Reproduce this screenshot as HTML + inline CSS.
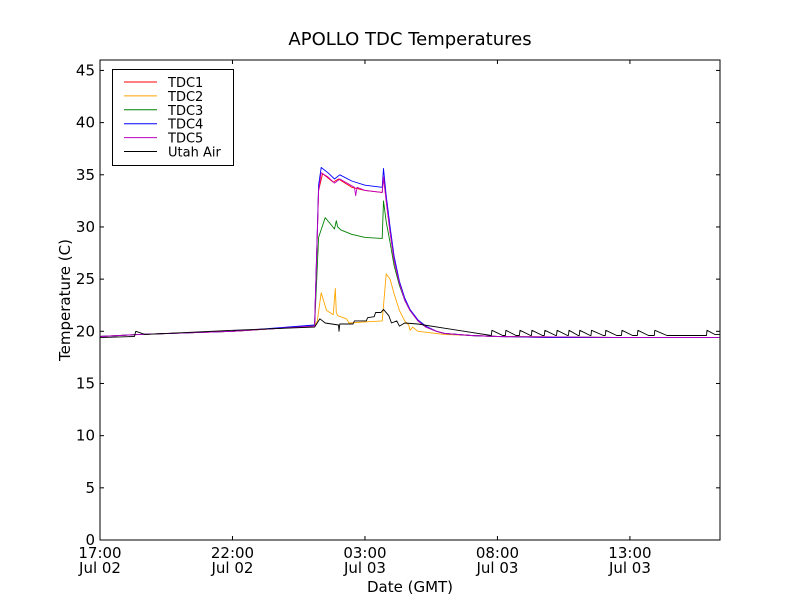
<!DOCTYPE html>
<html><head><meta charset="utf-8"><style>
body{margin:0;background:#fff;}
svg{display:block;font-family:"DejaVu Sans","Liberation Sans",sans-serif;}
</style></head><body>
<svg id="chart" width="800" height="600">
<rect width="800" height="600" fill="#fff"/>
<text x="410" y="45" font-size="18" text-anchor="middle">APOLLO TDC Temperatures</text>
<g id="plot"></g>
<text x="410" y="592" font-size="15" text-anchor="middle">Date (GMT)</text>
<text transform="translate(70,300) rotate(-90)" font-size="15" text-anchor="middle">Temperature (C)</text>
</svg>
<script>
const xTickHours=[0,5,10,15,20];
const xTickTimes=["17:00","22:00","03:00","08:00","13:00"];
const xTickDates=["Jul 02","Jul 02","Jul 03","Jul 03","Jul 03"];
const yTicks=[0,5,10,15,20,25,30,35,40,45];
const seriesNames=["TDC1","TDC2","TDC3","TDC4","TDC5","Utah Air"];
const seriesColors=["#ff0000","#ffa500","#008000","#0000ff","#bf00bf","#000000"];
const tdc1Hours=[0,1.5,5,8.1,8.25,8.4,8.8,9.0,9.5,10,10.65,10.7,10.8,10.95,11.1,11.3,11.5,11.7,12,12.3,12.7,13,14,15,17,20,23.4];
const tdc1Vals=[19.5,19.7,20.0,20.5,33.5,35.1,34.3,34.6,33.8,33.5,33.3,34.8,32.5,29.5,26.8,24.6,23.0,22.0,21.0,20.4,20.0,19.8,19.6,19.5,19.4,19.4,19.4];
const tdc2Hours=[0,1.5,5,8.1,8.2,8.35,8.55,8.8,8.88,8.92,8.97,9.3,9.4,10,10.65,10.8,10.95,11.1,11.3,11.5,11.65,11.7,11.8,12,13,15,20,23.4];
const tdc2Vals=[19.5,19.7,20.0,20.5,21.0,23.7,22.0,21.6,24.1,21.8,21.5,21.2,20.8,20.9,21.0,25.5,25.0,23.6,22.0,21.0,20.6,20.1,20.4,20.0,19.7,19.5,19.4,19.4];
const tdc3Hours=[0,1.5,5,8.1,8.25,8.5,8.85,8.92,8.97,9.1,9.5,10,10.65,10.7,10.8,10.95,11.1,11.3,11.5,11.7,12,12.3,12.7,13,14,15,20,23.4];
const tdc3Vals=[19.5,19.7,20.0,20.5,29.0,30.9,29.8,30.6,30.0,29.7,29.3,29.0,28.9,32.5,30.5,28.5,26.3,24.4,23.0,22.0,21.0,20.4,20.0,19.8,19.6,19.5,19.4,19.4];
const tdc4Hours=[0,1.5,5,8.1,8.25,8.35,8.6,8.85,9.05,9.5,10,10.65,10.7,10.8,10.95,11.1,11.3,11.5,11.7,12,12.3,12.7,13,14,15,17,20,23.4];
const tdc4Vals=[19.5,19.7,20.0,20.6,34.0,35.7,35.2,34.6,35.0,34.4,34.0,33.8,35.6,33.0,30.0,27.2,24.8,23.2,22.1,21.1,20.5,20.0,19.8,19.6,19.5,19.4,19.4,19.4];
const tdc5Hours=[0,1.5,5,8.1,8.25,8.35,8.6,8.85,9.05,9.6,9.65,9.7,10,10.65,10.7,10.8,10.95,11.1,11.3,11.5,11.7,12,12.3,12.7,13,14,15,20,23.4];
const tdc5Vals=[19.5,19.7,20.0,20.5,33.5,35.2,34.8,34.2,34.6,33.8,33.0,33.8,33.5,33.3,34.8,32.5,29.5,26.8,24.6,23.0,22.0,21.0,20.4,20.0,19.8,19.6,19.5,19.4,19.4];
const airHours=[0,1.3,1.35,1.7,5,8.1,8.3,8.5,9.0,9.02,9.05,9.1,9.55,9.6,10.05,10.1,10.35,10.4,10.6,10.7,10.9,11.0,11.2,11.3,11.5,12,13,14,14.77,14.79,15.2,15.3,15.32,15.7,15.83,15.85,16.25,16.28,16.30,16.7,16.77,16.79,17.2,17.23,17.25,17.65,17.68,17.70,18.05,18.09,18.11,18.5,18.53,18.55,19.0,19.07,19.09,19.5,19.68,19.70,20.1,20.28,20.30,20.7,20.92,20.94,21.4,22.89,22.91,23.2,23.4];
const airVals=[19.4,19.5,20.0,19.7,20.1,20.4,21.2,20.8,20.6,20.0,20.7,20.7,20.7,21.0,21.0,21.3,21.4,21.8,21.8,22.1,21.5,20.8,21.0,20.5,20.8,20.7,20.3,19.9,19.6,20.1,19.6,19.6,20.1,19.6,19.6,20.1,19.6,19.6,20.1,19.6,19.6,20.1,19.6,19.6,20.1,19.6,19.6,20.1,19.6,19.6,20.1,19.6,19.6,20.1,19.6,19.6,20.1,19.6,19.6,20.1,19.6,19.6,20.1,19.6,19.6,20.1,19.6,19.6,20.1,19.7,19.7];
const allHours=[tdc1Hours,tdc2Hours,tdc3Hours,tdc4Hours,tdc5Hours,airHours];
const allVals=[tdc1Vals,tdc2Vals,tdc3Vals,tdc4Vals,tdc5Vals,airVals];
const drawOrder=[0,1,2,3,4,5];

const L=100,R=720,T=60,B=540,XMAX=23.4,YMAX=46;
const sx=h=>L+h/XMAX*(R-L);
const sy=v=>B-v/YMAX*(B-T);
const NS="http://www.w3.org/2000/svg";
const g=document.getElementById('plot');
function mk(tag,attrs){const e=document.createElementNS(NS,tag);for(const k in attrs)e.setAttribute(k,attrs[k]);g.appendChild(e);return e;}

drawOrder.forEach(i=>{
  const pts=allHours[i].map((h,j)=>sx(h).toFixed(1)+','+sy(allVals[i][j]).toFixed(1)).join(' ');
  const p=mk('polyline',{points:pts,fill:'none',stroke:seriesColors[i],'stroke-width':0.9,'stroke-linejoin':'round'});
  
  
});

const fr=mk('rect',{x:L,y:T,width:R-L,height:B-T,fill:'none',stroke:'#000','stroke-width':1});



yTicks.forEach(v=>{
  const y=sy(v);
  mk('line',{x1:L,x2:L+4,y1:y,y2:y,stroke:'#000'});
  mk('line',{x1:R-4,x2:R,y1:y,y2:y,stroke:'#000'});
  const t=mk('text',{x:L-5,y:y+5,'font-size':15,'text-anchor':'end'});
  t.textContent=v;
  
  
});
xTickHours.forEach((h,i)=>{
  const x=sx(h);
  mk('line',{x1:x,x2:x,y1:B,y2:B-4,stroke:'#000'});
  mk('line',{x1:x,x2:x,y1:T,y2:T+4,stroke:'#000'});
  const t=mk('text',{x:x,y:B+18,'font-size':15,'text-anchor':'middle'});
  t.textContent=xTickTimes[i];
  
  
  const d=mk('text',{x:x,y:B+33,'font-size':15,'text-anchor':'middle'});
  d.textContent=xTickDates[i];
  
  
});

const lg=mk('rect',{x:112.5,y:69.5,width:121,height:96,fill:'#fff',stroke:'#000','stroke-width':1});


seriesNames.forEach((n,i)=>{
  const y=82+i*13.9;
  const l=mk('line',{x1:124,x2:157,y1:y,y2:y,stroke:seriesColors[i],'stroke-width':1});
  
  
  const t=mk('text',{x:168,y:y+5,'font-size':13});
  t.textContent=n;
  
  
});
</script>
</body></html>
